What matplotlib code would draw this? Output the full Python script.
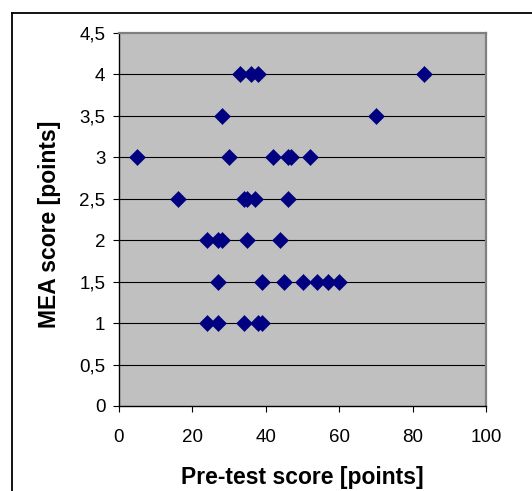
import matplotlib
matplotlib.use("Agg")
import matplotlib.pyplot as plt
from matplotlib.lines import Line2D

plt.rcParams['font.family'] = ['Liberation Sans', 'DejaVu Sans']

# Pre-test score vs. MEA score, one entry per student
pre_test = [33, 36, 38, 83,
            28, 70,
            5, 30, 42, 46, 47, 52,
            16, 34, 35, 37, 46,
            24, 27, 28, 35, 44,
            27, 39, 45, 50, 54, 57, 60,
            24, 27, 34, 38, 39]
mea = [4, 4, 4, 4,
       3.5, 3.5,
       3, 3, 3, 3, 3, 3,
       2.5, 2.5, 2.5, 2.5, 2.5,
       2, 2, 2, 2, 2,
       1.5, 1.5, 1.5, 1.5, 1.5, 1.5, 1.5,
       1, 1, 1, 1, 1]

x_ticks = [0, 20, 40, 60, 80, 100]
x_tick_labels = ["0", "20", "40", "60", "80", "100"]
y_ticks = [0, 0.5, 1, 1.5, 2, 2.5, 3, 3.5, 4, 4.5]
y_tick_labels = ["0", "0,5", "1", "1,5", "2", "2,5", "3", "3,5", "4", "4,5"]

W, H = 532, 491
fig = plt.figure(figsize=(W / 100, H / 100), dpi=100, facecolor="white")

# outer chart frame (top and left edges)
fig.add_artist(Line2D([12 / W, 1.0], [1 - 13 / H, 1 - 13 / H],
                      transform=fig.transFigure, color="black", lw=1.3))
fig.add_artist(Line2D([12 / W, 12 / W], [0.0, 1 - 13 / H],
                      transform=fig.transFigure, color="black", lw=1.3))

left, right, top, bottom = 119, 486, 33, 406
ax = fig.add_axes([left / W, (H - bottom) / H, (right - left) / W, (bottom - top) / H])
ax.set_facecolor("#C0C0C0")

ax.set_xlim(0, 100)
ax.set_ylim(0, 4.5)

for yv in y_ticks[1:-1]:
    ax.axhline(yv, color="black", lw=0.8, zorder=1)

ax.plot(pre_test, mea, linestyle="none", marker="D", markersize=7.8,
        color="#000080", markeredgecolor="#000080", markeredgewidth=0.4, zorder=3)

ax.set_xticks(x_ticks)
ax.set_xticklabels(x_tick_labels)
ax.set_yticks(y_ticks)
ax.set_yticklabels(y_tick_labels)
ax.tick_params(axis="both", direction="out", length=4.3, width=0.8,
               color="black", labelsize=13.5, labelcolor="black")
ax.tick_params(axis="y", pad=5.5)
ax.tick_params(axis="x", pad=12.5)

for side in ("left", "bottom"):
    ax.spines[side].set_color("black")
    ax.spines[side].set_linewidth(1.0)
for side in ("top", "right"):
    ax.spines[side].set_color("#808080")
    ax.spines[side].set_linewidth(1.6)

ax.set_xlabel("Pre-test score [points]", fontsize=16.5, fontweight="bold")
ax.xaxis.label.set_va("baseline")
ax.xaxis.set_label_coords(0.5, (bottom - 484) / (bottom - top))

ax.set_ylabel("MEA score [points]", fontsize=16.5, fontweight="bold")
ax.yaxis.label.set_va("center")
ax.yaxis.set_label_coords((50 - left) / (right - left), (bottom - 224) / (bottom - top))

fig.savefig("out.png", dpi=100, facecolor="white")
